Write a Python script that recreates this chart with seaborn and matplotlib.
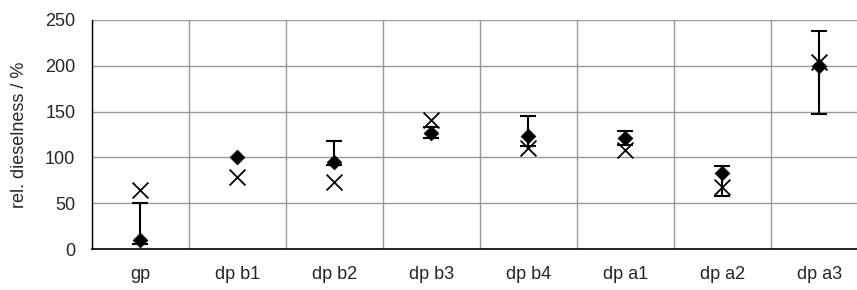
import numpy as np
import pandas as pd
import seaborn as sns
import matplotlib
matplotlib.use("Agg")
import matplotlib.pyplot as plt
from matplotlib.ticker import FixedLocator

categories = ['gp', 'dp b1', 'dp b2', 'dp b3', 'dp b4', 'dp a1', 'dp a2', 'dp a3']
# diamond series with error range
measured = [10, 100, 95, 127, 123, 121, 83, 200]
err_low = [5, 100, 92, 121, 112, 113, 58, 147]
err_high = [50, 100, 118, 133, 145, 129, 91, 238]
# cross series
predicted = [64, 79, 73, 141, 110, 108, 68, 204]

sns.set_style('white')
plt.rcParams['font.family'] = ['Liberation Sans', 'DejaVu Sans']
plt.rcParams['font.size'] = 13

df = pd.DataFrame({'cat': categories, 'measured': measured, 'predicted': predicted,
                   'lo': err_low, 'hi': err_high})
df['pos'] = np.arange(len(df))

fig = plt.figure(figsize=(8.57, 2.9), dpi=100)
ax = fig.add_axes([92 / 857, 41 / 290, 765 / 857, 229 / 290])

# error bars
has_err = df['hi'] > df['lo']
e = df[has_err]
ax.errorbar(e['pos'], e['measured'],
            yerr=[e['measured'] - e['lo'], e['hi'] - e['measured']],
            fmt='none', ecolor='black', elinewidth=1.5, capsize=6, capthick=1.5, zorder=3)

sns.scatterplot(data=df, x='pos', y='measured', marker='D', s=55, color='black',
                edgecolor='black', ax=ax, zorder=4, legend=False)
sns.scatterplot(data=df, x='pos', y='predicted', marker='x', s=130, color='black',
                linewidth=1.3, ax=ax, zorder=5, legend=False)

ax.set_xlim(-0.5, 7.387)
ax.set_ylim(0, 250)
ax.set_yticks([0, 50, 100, 150, 200, 250])
ax.set_xticks(df['pos'])
ax.set_xticklabels(categories)
ax.xaxis.set_minor_locator(FixedLocator(np.arange(-0.5, 8, 1)))
ax.tick_params(axis='x', which='major', length=0, pad=12)
ax.tick_params(axis='x', which='minor', length=4, width=1, color='black', direction='out')
ax.tick_params(axis='y', length=3, width=1, color='black', direction='out', pad=9)

ax.grid(False)
ax.yaxis.grid(True, color='#999999', linewidth=1)
ax.xaxis.grid(True, which='minor', color='#999999', linewidth=1)
ax.set_axisbelow(True)

for s in ['top', 'right']:
    ax.spines[s].set_visible(False)
ax.spines['left'].set_color('black')
ax.spines['bottom'].set_color('black')
ax.spines['left'].set_linewidth(1)
ax.spines['bottom'].set_linewidth(1.2)

ax.set_xlabel('')
ax.set_ylabel('rel. dieselness / %')
ax.yaxis.set_label_coords(-64 / 765, 0.5)

fig.savefig('out.png', dpi=100)
